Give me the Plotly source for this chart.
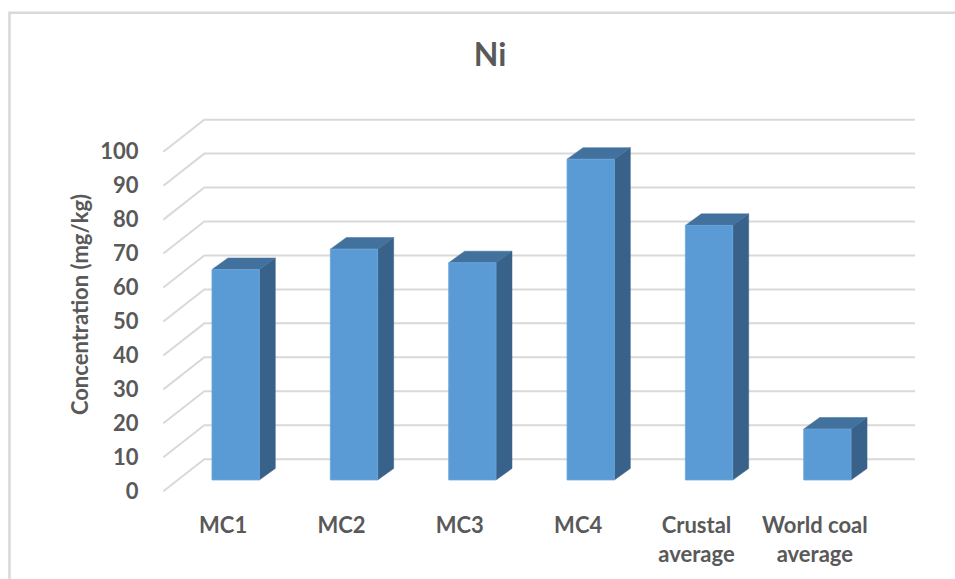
import plotly.graph_objects as go

# Nickel concentration per sample group (mg/kg)
categories = ["MC1", "MC2", "MC3", "MC4", "Crustal<br>average", "World coal<br>average"]
ni_values = [62, 68, 64, 94.5, 75, 15]
y_ticks = [0, 10, 20, 30, 40, 50, 60, 70, 80, 90, 100]

# Oblique "3-D" projection parameters (x in category units, y in value units)
DEPTH_DX = 0.346      # horizontal shift from front plane to back wall
DEPTH_DY = 9.45       # vertical shift from front plane to back wall
FLOOR_X0 = -0.611     # left end of the floor's front edge
WALL_X1 = 5.741       # right end of the back wall
BAR_W = 0.40          # width of a bar's front face
BAR_Z0 = 0.35         # depth of bar front face (fraction of floor depth)
SIDE_DX = 0.135       # bar depth, horizontal component
SIDE_DY = 3.4         # bar depth, vertical component
LABEL_SHIFT = 0.106   # category labels sit under the front plane, not the bar face

FRONT = "#5B9BD5"
TOP = "#41719C"
SIDE = "#38628A"
GRID = "#D9D9D9"
TEXT = "#595959"
FONT = "Lato"

fig = go.Figure()

# Back-wall gridlines with their diagonal run along the side floor edge
gx, gy = [], []
for t in y_ticks:
    gx += [FLOOR_X0, FLOOR_X0 + DEPTH_DX, WALL_X1, None]
    gy += [t, t + DEPTH_DY, t + DEPTH_DY, None]
fig.add_trace(go.Scatter(x=gx, y=gy, mode="lines",
                         line=dict(color=GRID, width=2),
                         hoverinfo="skip", showlegend=False))

# Columns: front face, top face and right side face
base = BAR_Z0 * DEPTH_DY
for i, (cat, v) in enumerate(zip(categories, ni_values)):
    xl, xr = i - BAR_W / 2, i + BAR_W / 2
    ytop = base + v
    # side face
    fig.add_trace(go.Scatter(
        x=[xr, xr, xr + SIDE_DX, xr + SIDE_DX, xr],
        y=[base, ytop, ytop + SIDE_DY, base + SIDE_DY, base],
        fill="toself", fillcolor=SIDE, mode="lines",
        line=dict(color=SIDE, width=0.5),
        hoverinfo="skip", showlegend=False))
    # top face
    fig.add_trace(go.Scatter(
        x=[xl, xr, xr + SIDE_DX, xl + SIDE_DX, xl],
        y=[ytop, ytop, ytop + SIDE_DY, ytop + SIDE_DY, ytop],
        fill="toself", fillcolor=TOP, mode="lines",
        line=dict(color=TOP, width=0.5),
        hoverinfo="skip", showlegend=False))
    # front face
    fig.add_trace(go.Scatter(
        x=[xl, xr, xr, xl, xl],
        y=[base, base, ytop, ytop, base],
        fill="toself", fillcolor=FRONT, mode="lines",
        line=dict(color="#6AA5DB", width=0.8),
        name=cat.replace("<br>", " "),
        text=f"{cat.replace('<br>', ' ')}: {v} mg/kg",
        hoverinfo="text", showlegend=False))

# Plot-area geometry in pixels (category step 118.4 px, 3.44 px per mg/kg)
X_STEP, Y_STEP = 118.4, 3.44
X_RANGE = [-0.69, 5.85]
Y_RANGE = [-2, 112]
W, H = 955, 579
ML, MT = 235.3 + X_RANGE[0] * X_STEP, 111.0
plot_w = (X_RANGE[1] - X_RANGE[0]) * X_STEP
plot_h = (Y_RANGE[1] - Y_RANGE[0]) * Y_STEP
MR = W - ML - plot_w
MB = H - MT - plot_h

fig.update_layout(
    width=W, height=H,
    margin=dict(l=ML, r=MR, t=MT, b=MB, pad=0),
    paper_bgcolor="white", plot_bgcolor="white",
    font=dict(family=FONT, color=TEXT),
    title=dict(text="<b>Ni</b>", x=490 / W, xref="container",
               xanchor="center", y=1 - 55 / H, yanchor="middle",
               font=dict(family=FONT, size=32, color=TEXT)),
    xaxis=dict(range=X_RANGE,
               tickvals=[i - LABEL_SHIFT for i in range(len(categories))],
               ticktext=[f"<b>{c}</b>".replace("<br>", "</b><br><b>") for c in categories],
               showgrid=False, zeroline=False, showline=False,
               ticks="outside", ticklen=8, tickcolor="rgba(0,0,0,0)",
               tickfont=dict(family=FONT, size=22, color=TEXT),
               fixedrange=True),
    yaxis=dict(range=Y_RANGE, tickvals=y_ticks,
               ticktext=[f"<b>{t}</b>" for t in y_ticks],
               showgrid=False, zeroline=False, showline=False,
               ticks="outside", ticklen=10, tickcolor="rgba(0,0,0,0)",
               tickfont=dict(family=FONT, size=22, color=TEXT),
               title=dict(text="<b>Concentration (mg/kg)</b>", standoff=5,
                          font=dict(family=FONT, size=22, color=TEXT)),
               fixedrange=True),
)

# Light chart-area frame (top and left edges visible)
px = lambda p: (p - ML) / plot_w
py = lambda p: (H - MB - p) / plot_h
fig.add_shape(type="rect", xref="paper", yref="paper",
              x0=px(9), x1=px(W + 20), y0=py(H + 20), y1=py(11.5),
              line=dict(color="#D9D9D9", width=2.5), fillcolor="rgba(0,0,0,0)",
              layer="below")

fig.write_html("out.html")
